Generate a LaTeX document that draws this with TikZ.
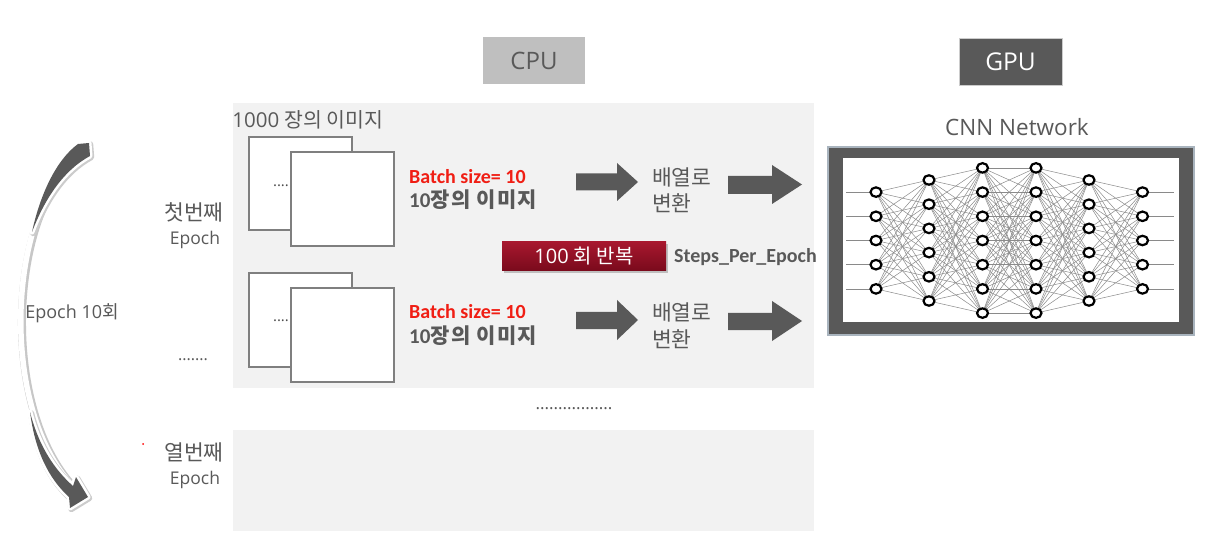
\documentclass[tikz,border=0pt]{standalone}
\usepackage{fontspec}
\setmainfont{Open Sans}
\newfontfamily\krf{Noto Sans CJK KR}
\newfontfamily\krs{Noto Sans CJK KR}[LetterSpace=6]
\newfontfamily\carl{Carlito}
\usetikzlibrary{shapes.geometric}
\definecolor{txt}{HTML}{595959}
\definecolor{panel}{HTML}{F2F2F2}
\definecolor{cpubox}{HTML}{BFBFBF}
\definecolor{darkbox}{HTML}{595959}
\definecolor{sqborder}{HTML}{7F7F7F}
\definecolor{redtxt}{HTML}{F01E14}
\definecolor{redtop}{HTML}{A8182F}
\definecolor{redbot}{HTML}{7A0A1C}
\definecolor{netline}{HTML}{8A8A8A}
\definecolor{framecol}{HTML}{A9B4BE}
\tikzset{
  lbl/.style={inner sep=0pt, text=txt},
  fs/.style={font=\fontsize{#1}{#1}\selectfont},
  fsb/.style={font=\fontsize{#1}{#1}\selectfont\bfseries},
  sq/.style={draw=sqborder, fill=white, line width=2.4pt},
  blockarr/.style={fill=darkbox},
  neuron/.style={ellipse, draw=black, fill=white, line width=2.2pt, minimum width=11pt, minimum height=9.5pt, inner sep=0pt},
  netedge/.style={draw=netline, line width=0.5pt},
}
\begin{document}
\begin{tikzpicture}[x=1pt,y=-1pt]
\useasboundingbox (0,0) rectangle (1219,556);
\fill[white] (0,0) rectangle (1219,556);

% header boxes
\node[fill=cpubox, minimum width=102pt, minimum height=47pt, inner sep=0pt, text=txt, fs=24] (cpu) at (534,60.5) {CPU};
\node[fill=darkbox, draw=black!20, line width=0.8pt, minimum width=103pt, minimum height=47pt, inner sep=0pt, text=white, fs=24.5] (gpu) at (1010.5,61.5) {GPU};

% panels
\fill[panel] (233,103) rectangle (814,388);
\fill[panel] (233,430) rectangle (814,531);

\node[lbl, fs=20.5] (total) at (308,120) {1000 {\krf 장의 이미지}};

% row 1 squares
\draw[sq] (249,137) rectangle (352,230);
\node[lbl, fs=15, text=black!70] (dots1) at (281,186) {....};
\draw[sq] (291,152) rectangle (394,246);
% row 2 squares
\draw[sq] (249,273) rectangle (352,367);
\node[lbl, fs=15, text=black!70] (dots2) at (281,321) {....};
\draw[sq] (291,288) rectangle (394,382);

% batch labels
\node[lbl, anchor=west, text=redtxt, fsb=20] (b1) at (409,177) {\carl Batch size= 10};
\node[lbl, anchor=west, fsb=21] (i1) at (409,200) {{\carl 10}{\krs 장의 이미지}};
\node[lbl, anchor=west, text=redtxt, fsb=20] (b2) at (409,312) {\carl Batch size= 10};
\node[lbl, anchor=west, fsb=21] (i2) at (409,336) {{\carl 10}{\krs 장의 이미지}};

% block arrows
\fill[blockarr] (576,173.5) -- (617,173.5) -- (617,163) -- (638,182) -- (617,201) -- (617,190.5) -- (576,190.5) -- cycle;
\fill[blockarr] (728,176) -- (772,176) -- (772,165) -- (802,184.5) -- (772,204) -- (772,194) -- (728,194) -- cycle;
\fill[blockarr] (576,312) -- (617,312) -- (617,300) -- (638,320) -- (617,340) -- (617,329) -- (576,329) -- cycle;
\fill[blockarr] (728,313) -- (772,313) -- (772,301) -- (802,321) -- (772,341) -- (772,330) -- (728,330) -- cycle;

\node[lbl, anchor=west, fs=21.5] (c1a) at (652,177) {\krf 배열로};
\node[lbl, anchor=west, fs=21.5] (c1b) at (652,203) {\krf 변환};
\node[lbl, anchor=west, fs=21.5] (c2a) at (652,312) {\krf 배열로};
\node[lbl, anchor=west, fs=21.5] (c2b) at (652,339) {\krf 변환};

% repeat box
\fill[black!25] (504,244) rectangle (668,273);
\node[top color=redtop, bottom color=redbot, minimum width=164pt, minimum height=29pt, inner sep=0pt, text=white, fs=20] (rep) at (584,256) {100 {\krf 회 반복}};
\node[lbl, anchor=west, fsb=20] (spe) at (674,257) {\carl Steps\_Per\_Epoch};

% dots
\node[lbl, fs=16] (ell1) at (193,360) {.......};
\node[lbl, fs=17] (ell2) at (574,409) {.................};

% epoch labels
\node[lbl, fs=21.5] (first) at (194,212) {\krf 첫번째};
\node[lbl, fs=17.5] (firstE) at (195,240) {Epoch};
\node[lbl, fs=21.5] (tenth) at (194,452) {\krf 열번째};
\node[lbl, fs=17.5] (tenthE) at (195,480) {Epoch};
\fill[red] (143,444) circle (1);
\node[lbl, fs=18] (ep10) at (72,313) {Epoch 10{\krf 회}};

% curved arrow
\draw[black!22, line width=8pt, shift={(1.2,1.2)}] (85,150) .. controls (5,200) and (-5,420) .. (82,495);
\draw[white, line width=5.5pt] (85,150) .. controls (5,200) and (-5,420) .. (82,495);
\path[draw=black!20, line width=6pt, line join=round, shift={(1.2,1.2)}]
  (78,144) .. controls (56,160) and (40,195) .. (32,232) .. controls (45,198) and (64,170) .. (90,156) -- (89,143) -- cycle
  (30,412) .. controls (35,450) and (48,478) .. (69,497) -- (70,508) -- (88,497) -- (76,477) -- (73,486) .. controls (55,470) and (39,447) .. (30,412) -- cycle;
\path[draw=white, line width=5pt, line join=round]
  (78,144) .. controls (56,160) and (40,195) .. (32,232) .. controls (45,198) and (64,170) .. (90,156) -- (89,143) -- cycle
  (30,412) .. controls (35,450) and (48,478) .. (69,497) -- (70,508) -- (88,497) -- (76,477) -- (73,486) .. controls (55,470) and (39,447) .. (30,412) -- cycle;
\fill[darkbox]
  (78,144) .. controls (56,160) and (40,195) .. (32,232) .. controls (45,198) and (64,170) .. (90,156) -- (89,143) -- cycle
  (30,412) .. controls (35,450) and (48,478) .. (69,497) -- (70,508) -- (88,497) -- (76,477) -- (73,486) .. controls (55,470) and (39,447) .. (30,412) -- cycle;

% CNN
\node[lbl, fs=22.5] (cnnlbl) at (1017,127) {CNN Network};
\node[fill=darkbox, draw=framecol, line width=1.5pt, minimum width=366pt, minimum height=188pt, inner sep=0pt] (cnnbox) at (1011,241) {};
\node[fill=white, minimum width=336pt, minimum height=163pt, inner sep=0pt] (cnnin) at (1011,240) {};

\foreach \l/\n/\x in {1/5/876,2/6/929,3/7/982.5,4/7/1036,5/6/1089,6/5/1142.5}{
  \foreach \i in {1,...,\n}{
    \coordinate (c-\l-\i) at (\x,{240.5+24.2*(\i-(\n+1)/2)});
  }
}
\foreach \i in {1,...,5}{
  \coordinate (in-\i) at (846,{240.5+24.2*(\i-3)});
  \coordinate (out-\i) at (1174,{240.5+24.2*(\i-3)});
  \draw[netedge] (in-\i) -- (c-1-\i);
  \draw[netedge] (c-6-\i) -- (out-\i);
}
\foreach \a/\na/\b/\nb in {1/5/2/6,2/6/3/7,3/7/4/7,4/7/5/6,5/6/6/5}{
  \foreach \i in {1,...,\na}{
    \foreach \j in {1,...,\nb}{
      \draw[netedge] (c-\a-\i) -- (c-\b-\j);
    }
  }
}
\foreach \l/\n in {1/5,2/6,3/7,4/7,5/6,6/5}{
  \foreach \i in {1,...,\n}{
    \node[neuron] (n-\l-\i) at (c-\l-\i) {};
  }
}
\end{tikzpicture}
\end{document}
